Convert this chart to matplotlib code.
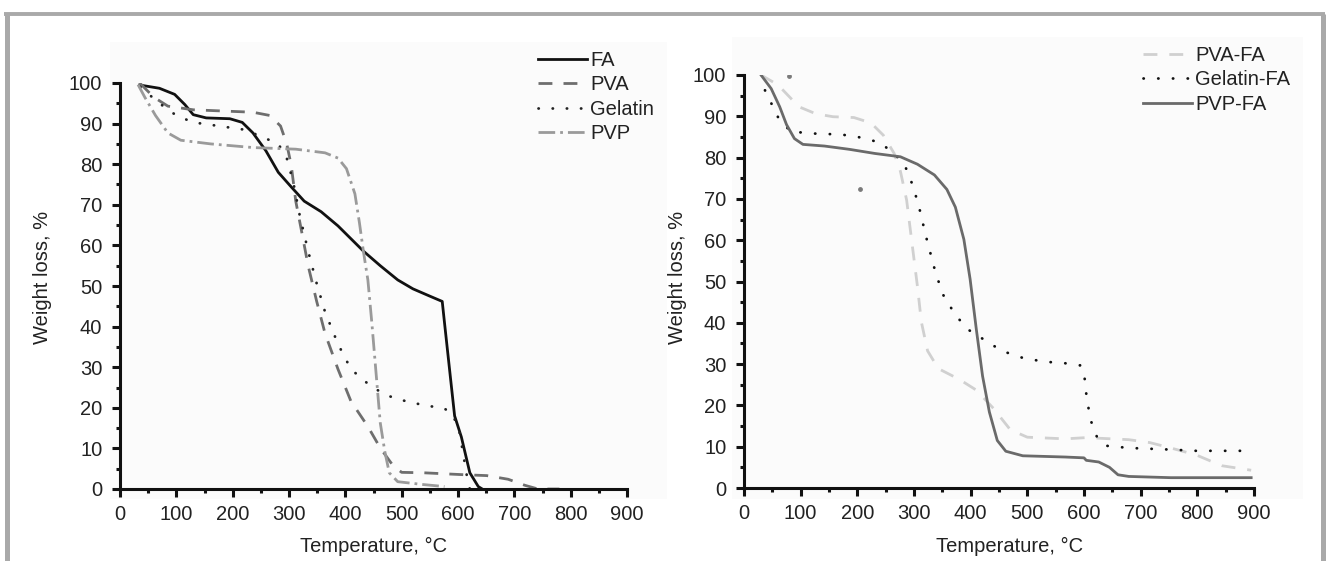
import numpy as np
import matplotlib.pyplot as plt
from matplotlib.patches import Rectangle
from matplotlib.lines import Line2D
from matplotlib.ticker import MultipleLocator

plt.rcParams['font.family'] = ['Liberation Sans', 'DejaVu Sans']

# left panel - pure materials
fa_T = [35, 70, 97, 115, 130, 153, 195, 217, 236, 259, 281, 304, 327, 357, 387, 432, 462, 493, 520, 550, 572, 576, 587, 594, 606, 621, 636, 643]
fa_W = [99.5, 98.7, 97.2, 94.7, 92.2, 91.4, 91.2, 90.3, 87.7, 83.3, 78, 74.4, 70.9, 68.3, 64.8, 58.6, 55, 51.5, 49.3, 47.5, 46.2, 41, 26.9, 18, 12.8, 4, 0.6, 0]

pva_T = [35, 60, 85, 130, 236, 266, 285, 296, 304, 312, 323, 334, 349, 364, 387, 410, 440, 462, 485, 500, 538, 613, 651, 689, 719, 742, 780]
pva_W = [100, 96.5, 94.3, 93.4, 92.8, 92, 89.4, 85, 79.7, 70.9, 63, 55, 46.3, 38.3, 29.5, 21.6, 15.4, 10.1, 5.7, 4.1, 4.0, 3.5, 3.3, 2.4, 0.9, 0, 0]

gel_T = [36, 70, 100, 130, 176, 221, 251, 281, 296, 308, 319, 334, 349, 364, 387, 410, 447, 477, 508, 538, 576, 590, 602, 610, 617, 621]
gel_W = [99, 95, 92, 90.3, 89.4, 88.5, 86.8, 85, 81.5, 75.3, 67.4, 58.6, 50.7, 43.6, 35.7, 29.5, 25.1, 22.9, 21.6, 20.7, 19.8, 18.5, 14.5, 8, 2.2, 0]

pvp_T = [32, 44, 63, 85, 108, 161, 236, 312, 364, 387, 402, 417, 425, 432, 440, 447, 455, 462, 470, 478, 493, 538, 576]
pvp_W = [99.6, 96.5, 92, 87.7, 85.9, 85, 84.1, 83.7, 82.8, 81.5, 78.9, 72.7, 65.6, 58.6, 51.5, 41, 27.8, 16.3, 9.3, 4, 1.8, 1.1, 0.6]

# right panel - composites with FA
pvafa_T = [30, 60, 97, 127, 157, 194, 224, 246, 265, 276, 287, 298, 306, 313, 324, 343, 380, 410, 440, 470, 500, 567, 604, 679, 716, 753, 798, 843, 895]
pvafa_W = [100, 97.6, 92.3, 90.6, 89.9, 89.7, 88.4, 85.4, 81, 76.7, 69.7, 57.6, 48.9, 40.2, 33.2, 28.9, 26.3, 23.7, 19.3, 14.1, 12.3, 11.9, 12.2, 11.7, 11, 9.7, 8, 5.4, 4.3]

gelfa_T = [37, 60, 82, 127, 171, 201, 239, 265, 283, 298, 309, 321, 336, 350, 373, 395, 425, 455, 492, 529, 567, 593, 600, 604, 611, 623, 641, 679, 753, 798, 887]
gelfa_W = [96.3, 89.8, 86.3, 85.8, 85.6, 85, 83.7, 81, 78.4, 73.2, 68, 61, 53.2, 47.1, 41.9, 38.4, 35.8, 33.2, 31.5, 30.6, 30.2, 29.7, 28, 22.8, 16.7, 12.3, 10.2, 9.7, 9.3, 9, 9]

pvpfa_T = [30, 48, 63, 75, 89, 104, 142, 186, 231, 276, 306, 336, 358, 373, 388, 399, 410, 421, 433, 447, 462, 492, 567, 600, 604, 626, 645, 660, 679, 753, 895]
pvpfa_W = [100, 96.7, 92.3, 88, 84.6, 83.2, 82.8, 82, 81, 80.2, 78.4, 75.8, 72.3, 68, 60.2, 50.6, 38.4, 27.1, 18.4, 11.5, 8.9, 7.8, 7.5, 7.3, 6.7, 6.3, 5, 3.2, 2.8, 2.5, 2.5]

# two loose points in the right plot
stray_T = [80, 205]
stray_W = [99.7, 72.3]

x_ticks = np.arange(0, 901, 100)
y_ticks = np.arange(0, 101, 10)

fig = plt.figure(figsize=(13.26, 5.61), dpi=100)
W, H = 1326, 561

# faint plot backgrounds (behind the axes)
fig.patches.append(Rectangle((110 / W, 1 - 499 / H), 557 / W, 457 / H, transform=fig.transFigure,
                             facecolor='#fbfbfb', edgecolor='none', zorder=-5))
fig.patches.append(Rectangle((732 / W, 1 - 499 / H), 571 / W, 462 / H, transform=fig.transFigure,
                             facecolor='#fbfbfb', edgecolor='none', zorder=-5))

# gray frame (open at the bottom)
frame_c = '#a9a9a9'
fig.add_artist(Line2D([6.5 / W, 6.5 / W], [0, 1 - 13.5 / H], transform=fig.transFigure, color=frame_c, lw=3.6, solid_capstyle='butt', zorder=-4))
fig.add_artist(Line2D([1322.5 / W, 1322.5 / W], [0, 1 - 13.5 / H], transform=fig.transFigure, color=frame_c, lw=3.6, solid_capstyle='butt', zorder=-4))
fig.add_artist(Line2D([4 / W, 1325 / W], [1 - 13.5 / H, 1 - 13.5 / H], transform=fig.transFigure, color=frame_c, lw=2.8, solid_capstyle='butt', zorder=-4))

ax1 = fig.add_axes([120 / W, 1 - 489 / H, 507 / W, 406 / H])
ax2 = fig.add_axes([744 / W, 1 - 488 / H, 510 / W, 413 / H])

lw = 2.0
ax1.plot(fa_T, fa_W, color='#111111', lw=lw, label='FA')
ax1.plot(pva_T, pva_W, color='#6e6e6e', lw=lw, linestyle=(0, (5, 4)), label='PVA')
ax1.plot(gel_T, gel_W, color='#222222', lw=lw, linestyle=(0, (0.1, 5)), dash_capstyle='round', label='Gelatin')
ax1.plot(pvp_T, pvp_W, color='#9a9a9a', lw=lw, linestyle=(0, (6, 1.8, 1, 1.8)), label='PVP')

ax2.plot(pvafa_T, pvafa_W, color='#d0d0d0', lw=lw, linestyle=(0, (5, 4.3)), label='PVA-FA')
ax2.plot(gelfa_T, gelfa_W, color='#111111', lw=lw, linestyle=(0, (0.1, 5.2)), dash_capstyle='round', label='Gelatin-FA')
ax2.plot(pvpfa_T, pvpfa_W, color='#6a6a6a', lw=lw, label='PVP-FA')
ax2.scatter(stray_T, stray_W, s=6, color='#7a7a7a', zorder=3)

for ax, xl in [(ax1, 0.5), (ax2, 0.52)]:
    ax.set_xlim(0, 900)
    ax.set_ylim(0, 100)
    ax.set_xticks(x_ticks)
    ax.set_yticks(y_ticks)
    ax.xaxis.set_minor_locator(MultipleLocator(50))
    ax.yaxis.set_minor_locator(MultipleLocator(5))
    ax.patch.set_visible(False)
    for s in ['top', 'right']:
        ax.spines[s].set_visible(False)
    for s in ['left', 'bottom']:
        ax.spines[s].set_linewidth(2.2)
        ax.spines[s].set_color('#111111')
    ax.tick_params(which='major', direction='out', length=5.5, width=2.2, color='#111111',
                   labelsize=14.5, labelcolor='#222222', pad=6)
    ax.tick_params(axis='y', which='major', pad=7.2)
    ax.tick_params(which='minor', direction='out', length=3, width=2.2, color='#111111')
    ax.set_xlabel('Temperature, °C', fontsize=14.5, color='#222222')
    ax.set_ylabel('Weight loss, %', fontsize=14.5, color='#222222')
    ax.xaxis.set_label_coords(xl, -0.118)

ax1.yaxis.set_label_coords(-0.134, 0.52)
ax2.yaxis.set_label_coords(-0.112, 0.51)

leg_kw = dict(frameon=False, fontsize=14.5, handlelength=2.45, handletextpad=0.15,
              labelspacing=0.27, borderpad=0, borderaxespad=0, loc='upper left')
l1 = ax1.legend(bbox_to_anchor=(538 / W, 1 - 51 / H), bbox_transform=fig.transFigure, **leg_kw)
l2 = ax2.legend(bbox_to_anchor=(1143 / W, 1 - 46 / H), bbox_transform=fig.transFigure, **leg_kw)
for t in l1.get_texts() + l2.get_texts():
    t.set_color('#222222')

fig.savefig('out.png', dpi=100)
